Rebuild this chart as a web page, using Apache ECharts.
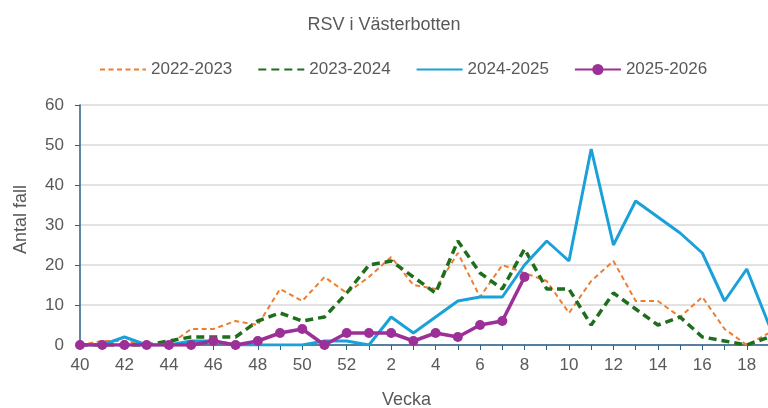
<!DOCTYPE html>
<html>
<head>
<meta charset="utf-8">
<script src="https://cdn.jsdelivr.net/npm/echarts@6/dist/echarts.min.js"></script>
<style>
html,body{margin:0;padding:0;background:#fff;overflow:hidden;}
#c{width:768px;height:408px;}
</style>
</head>
<body>
<div id="c"></div>
<script>
const weeks = ['40','41','42','43','44','45','46','47','48','49','50','51','52','1','2','3','4','5','6','7','8','9','10','11','12','13','14','15','16','17','18','19'];
const s2022 = [0,1,1,0,0,4,4,6,5,14,11,17,13,17,22,15,14,23,12,20,18,16,8,16,21,11,11,7,12,4,0,3];
const s2023 = [0,0,0,0,1,2,2,2,6,8,6,7,13,20,21,17,13,26,18,14,24,14,14,5,13,9,5,7,2,1,0,2];
const s2024 = [0,0,2,0,0,1,1,0,0,0,0,1,1,0,7,3,7,11,12,12,20,26,21,49,25,36,32,28,23,11,19,5];
const s2025 = [0,0,0,0,0,0,1,0,1,3,4,0,3,3,3,1,3,2,5,6,17];
const seriesNames = ['2022-2023','2023-2024','2024-2025','2025-2026'];
const yTicks = {min:0, max:60, interval:10};

const txt = '#595959';
const font = 'Liberation Sans, Arial, sans-serif';
const axisCol = '#2a5f86';
const chart = echarts.init(document.getElementById('c'));
chart.setOption({
  animation:false,
  backgroundColor:'#fff',
  title:{text:'RSV i Västerbotten', left:'center', top:11,
    textStyle:{color:txt, fontSize:18, fontWeight:'normal', fontFamily:font}},
  legend:{top:61, left:99, padding:0, itemWidth:46, itemHeight:14, itemGap:25,
    textStyle:{color:txt, fontSize:17, fontFamily:font},
    data:[
      {name:seriesNames[0], itemStyle:{opacity:0}},
      {name:seriesNames[1], itemStyle:{opacity:0}},
      {name:seriesNames[2], itemStyle:{opacity:0}},
      {name:seriesNames[3]}
    ]},
  grid:{left:80, right:-1, top:105, bottom:63, containLabel:false, outerBoundsMode:'none'},
  xAxis:{type:'category', data:weeks, boundaryGap:false,
    name:'Vecka', nameLocation:'middle', nameGap:46,
    nameTextStyle:{color:txt, fontSize:18, fontFamily:font, padding:[0,36,0,0]},
    axisLine:{lineStyle:{color:axisCol, width:1.5}},
    axisTick:{show:true, interval:0, length:5, lineStyle:{color:axisCol}},
    axisLabel:{interval:1, color:txt, fontSize:17, fontFamily:font, margin:12},
    splitLine:{show:false}},
  yAxis:{type:'value', min:yTicks.min, max:yTicks.max, interval:yTicks.interval,
    name:'Antal fall', nameLocation:'middle', nameGap:50, nameRotate:90,
    nameTextStyle:{color:txt, fontSize:18, fontFamily:font, padding:[0,0,0,11]},
    axisLine:{show:true, lineStyle:{color:axisCol, width:1.5}},
    axisTick:{show:true, length:5, lineStyle:{color:axisCol}},
    axisLabel:{color:txt, fontSize:17, fontFamily:font, margin:16},
    splitLine:{lineStyle:{color:'#d9d9d9', width:1.5}}},
  series:[
    {name:seriesNames[0], type:'line', data:s2022, symbol:'none', z:2,
      itemStyle:{color:'#ed7d31'},
      lineStyle:{color:'#ed7d31', width:2, type:[5,3.5]}},
    {name:seriesNames[1], type:'line', data:s2023, symbol:'none', z:3,
      itemStyle:{color:'#1e6e1e'},
      lineStyle:{color:'#1e6e1e', width:3.5, type:[8,5]}},
    {name:seriesNames[2], type:'line', data:s2024, symbol:'none', z:4,
      itemStyle:{color:'#1ba1da'},
      lineStyle:{color:'#1ba1da', width:3}},
    {name:seriesNames[3], type:'line', data:s2025, symbol:'circle', symbolSize:10, z:5,
      itemStyle:{color:'#9c2f98'},
      lineStyle:{color:'#9c2f98', width:3.5}}
  ]
});
</script>
</body>
</html>
